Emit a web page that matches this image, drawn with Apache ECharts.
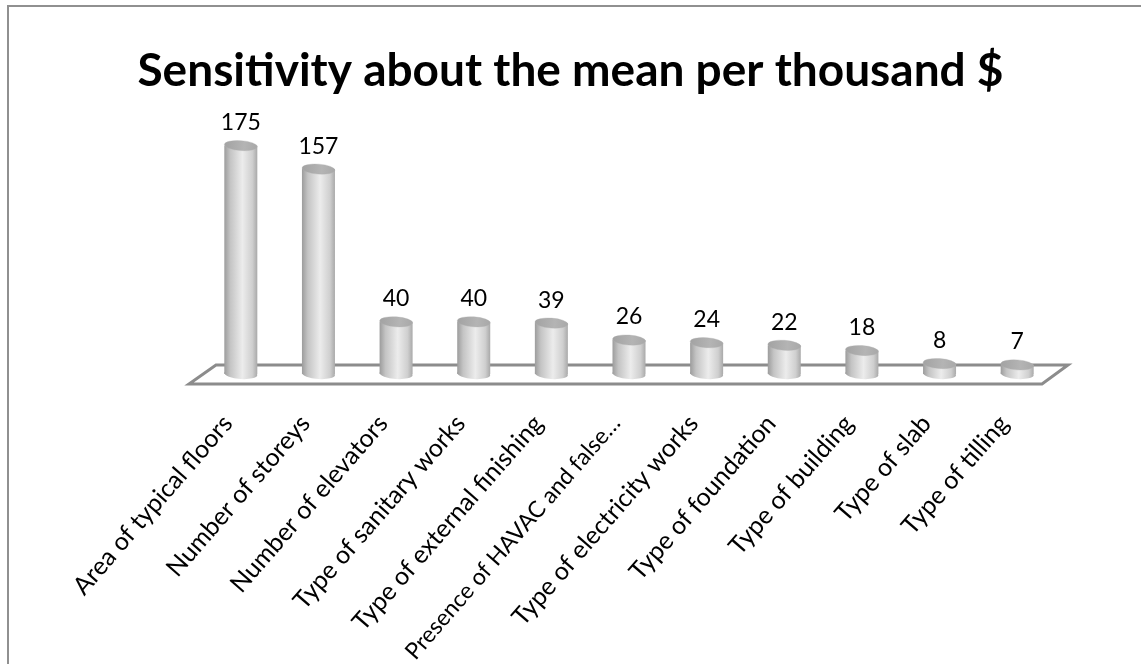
<!DOCTYPE html>
<html>
<head>
<meta charset="utf-8">
<script src="https://cdn.jsdelivr.net/npm/echarts@6/dist/echarts.min.js"></script>
<style>
html,body{margin:0;padding:0;background:#fff;}
#chart{width:1141px;height:664px;}
</style>
</head>
<body>
<div id="chart"></div>
<script>
const titleText = 'Sensitivity about the mean per thousand $';
const categories = [
  'Area of typical floors',
  'Number of storeys',
  'Number of elevators',
  'Type of sanitary works',
  'Type of external finishing',
  'Presence of HAVAC and false\u2026',
  'Type of electricity works',
  'Type of foundation',
  'Type of building',
  'Type of slab',
  'Type of tilling'
];
const values = [175, 157, 40, 40, 39, 26, 24, 22, 18, 8, 7];

const chart = echarts.init(document.getElementById('chart'), null, {renderer: 'canvas'});

function bodyGrad() {
  return new echarts.graphic.LinearGradient(0, 0, 1, 0, [
    {offset: 0, color: '#9c9c9c'},
    {offset: 0.18, color: '#c4c4c4'},
    {offset: 0.55, color: '#ececec'},
    {offset: 0.85, color: '#cfcfcf'},
    {offset: 1, color: '#a9a9a9'}
  ]);
}
function topGrad() {
  return new echarts.graphic.LinearGradient(0, 0, 1, 0, [
    {offset: 0, color: '#a2a2a2'},
    {offset: 0.6, color: '#b4b4b4'},
    {offset: 1, color: '#a8a8a8'}
  ]);
}

const RX = 16.5, RY = 5, TILT = -0.07;

function renderCylinder(params, api) {
  const idx = api.value(0);
  const v = api.value(1);
  const top = api.coord([idx, v]);
  const base = api.coord([idx, 0]);
  const cx = top[0];
  return {
    type: 'group',
    children: [
      {
        type: 'circle', x: cx, y: base[1], scaleY: RY / RX, rotation: TILT,
        shape: {cx: 0, cy: 0, r: RX},
        style: {fill: bodyGrad()}
      },
      {
        type: 'rect',
        shape: {x: cx - RX, y: top[1], width: RX * 2, height: base[1] - top[1]},
        style: {fill: bodyGrad()}
      },
      {
        type: 'circle', x: cx, y: top[1], scaleY: RY / RX, rotation: TILT,
        shape: {cx: 0, cy: 0, r: RX},
        style: {fill: topGrad(), stroke: '#b0b0b0', lineWidth: 0.5}
      },
      {
        type: 'text', x: cx, y: top[1] - 23,
        style: {
          text: String(v), align: 'center', verticalAlign: 'middle',
          fontFamily: 'Lato', fontSize: 23, fill: '#000'
        }
      }
    ]
  };
}

function renderFloor(params, api) {
  const cs = params.coordSys;
  const L = cs.x, R = cs.x + cs.width;
  const b = api.coord([0, 0])[1];
  const backY = b - 9, frontY = b + 10;
  return {
    type: 'polygon',
    shape: {points: [[L + 14, backY], [R + 12, backY], [R - 14, frontY], [L - 13, frontY]]},
    style: {fill: '#ffffff', stroke: '#8c8c8c', lineWidth: 3}
  };
}

const option = {
  backgroundColor: '#ffffff',
  animation: false,
  title: {
    text: titleText,
    left: 'center',
    top: 43,
    textStyle: {fontFamily: 'Lato', fontWeight: 'bold', fontSize: 46, color: '#000'}
  },
  graphic: [{
    type: 'rect', x: 8, y: 6,
    shape: {x: 0, y: 0, width: 1200, height: 700},
    style: {fill: 'none', stroke: '#909090', lineWidth: 2},
    silent: true
  }],
  grid: {left: 202, right: 85, top: 113, bottom: 290, containLabel: false, outerBoundsMode: 'none'},
  xAxis: {
    type: 'category',
    data: categories,
    axisLine: {show: false},
    axisTick: {show: false},
    axisLabel: {
      interval: 0, rotate: 49, margin: 30, padding: [0, 20, 0, 0],
      fontFamily: 'Lato', fontSize: 25, color: '#000',
      formatter: function (v) {
        return v.length > 26 ? '{s|' + v + '}' : '{n|' + v + '}';
      },
      rich: {
        n: {fontFamily: 'Lato', fontSize: 25, color: '#000'},
        s: {fontFamily: 'Lato', fontSize: 23, color: '#000'}
      }
    }
  },
  yAxis: {
    type: 'value', min: 0, max: 200,
    show: false
  },
  series: [
    {
      type: 'custom',
      name: 'floor',
      renderItem: renderFloor,
      data: [[0, 0]],
      z: 1,
      silent: true
    },
    {
      type: 'custom',
      name: 'Sensitivity',
      renderItem: renderCylinder,
      data: values.map((v, i) => [i, v]),
      encode: {x: 0, y: 1},
      z: 2
    }
  ]
};
chart.setOption(option);
</script>
</body>
</html>
